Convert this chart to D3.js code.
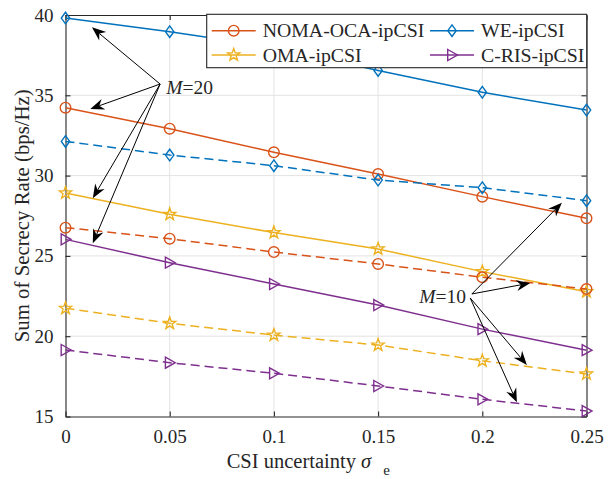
<!DOCTYPE html>
<html>
<head>
<meta charset="utf-8">
<script src="https://cdn.jsdelivr.net/npm/d3@7/dist/d3.min.js"></script>
<style>
  html, body { margin: 0; padding: 0; background: #fff; }
  svg { display: block; }
  text { font-family: "Liberation Serif", "Times New Roman", serif; fill: #262626; }
</style>
</head>
<body>
<svg id="chart" width="612" height="479"></svg>
<script>
// CSI uncertainty values on the x axis
const sigma = [0, 0.05, 0.1, 0.15, 0.2, 0.25];
const xTicks = [0, 0.05, 0.1, 0.15, 0.2, 0.25];
const yTicks = [15, 20, 25, 30, 35, 40];

// Sum secrecy rate (bps/Hz), M = 20 (solid) and M = 10 (dashed)
const nomaM20 = [34.23, 32.92, 31.45, 30.10, 28.69, 27.34];
const weM20   = [39.81, 38.96, 38.00, 36.55, 35.19, 34.08];
const omaM20  = [28.92, 27.59, 26.45, 25.43, 24.02, 22.77];
const crisM20 = [26.03, 24.58, 23.25, 21.94, 20.44, 19.13];
const nomaM10 = [26.76, 26.07, 25.24, 24.50, 23.67, 22.94];
const weM10   = [32.13, 31.28, 30.62, 29.72, 29.25, 28.44];
const omaM10  = [21.74, 20.80, 20.07, 19.45, 18.47, 17.65];
const crisM10 = [19.14, 18.35, 17.69, 16.90, 16.07, 15.34];

const schemeNames = ["NOMA-OCA-ipCSI", "WE-ipCSI", "OMA-ipCSI", "C-RIS-ipCSI"];

const colors = {
  noma: "#D95319",
  we: "#0072BD",
  oma: "#EDB120",
  cris: "#7E2F8E"
};

const series = [
  { key: "noma", name: schemeNames[0], values: nomaM20, dashed: false, marker: "circle" },
  { key: "we",   name: schemeNames[1], values: weM20,   dashed: false, marker: "diamond" },
  { key: "oma",  name: schemeNames[2], values: omaM20,  dashed: false, marker: "star" },
  { key: "cris", name: schemeNames[3], values: crisM20, dashed: false, marker: "triangle" },
  { key: "noma", values: nomaM10, dashed: true, marker: "circle" },
  { key: "we",   values: weM10,   dashed: true, marker: "diamond" },
  { key: "oma",  values: omaM10,  dashed: true, marker: "star" },
  { key: "cris", values: crisM10, dashed: true, marker: "triangle" }
];

// Annotation arrows, in data coordinates: [sigma, rate]
const m20Label = { text: "20", at: [0.0484, 35.5] };
const m20Arrows = [
  { from: [0.0454, 35.70], to: [0.0127, 39.23] },
  { from: [0.0454, 35.70], to: [0.0119, 34.15] },
  { from: [0.0454, 35.70], to: [0.0131, 28.59] },
  { from: [0.0454, 35.70], to: [0.0131, 25.78] }
];
const m10Label = { text: "10", at: [0.1922, 22.46] };
const m10Arrows = [
  { from: [0.1950, 22.63], to: [0.2382, 28.31] },
  { from: [0.1950, 22.63], to: [0.2230, 23.31] },
  { from: [0.1942, 22.38], to: [0.2214, 18.21] },
  { from: [0.1942, 22.38], to: [0.2166, 15.88] }
];

const svg = d3.select("#chart");
const plot = { left: 65.5, right: 586.5, top: 15, bottom: 416.5 };

const x = d3.scaleLinear().domain([0, 0.25]).range([plot.left, plot.right]);
const y = d3.scaleLinear().domain([15, 40]).range([plot.bottom, plot.top]);

const tickFont = 19;
const axisColor = "#262626";

// grid
const grid = svg.append("g");
grid.selectAll("line.gx").data(xTicks.slice(1, -1)).enter().append("line")
  .attr("x1", d => x(d)).attr("x2", d => x(d))
  .attr("y1", plot.top).attr("y2", plot.bottom)
  .attr("stroke", "#e3e3e3").attr("stroke-width", 1);
grid.selectAll("line.gy").data(yTicks.slice(1, -1)).enter().append("line")
  .attr("x1", plot.left).attr("x2", plot.right)
  .attr("y1", d => y(d)).attr("y2", d => y(d))
  .attr("stroke", "#e3e3e3").attr("stroke-width", 1);

// axes with inward ticks, box on all four sides
const fmtX = d => d === 0 ? "0" : String(+d.toFixed(2));
const axB = d3.axisBottom(x).tickValues(xTicks).tickSizeInner(-5).tickSizeOuter(0).tickPadding(13).tickFormat(fmtX);
const axT = d3.axisTop(x).tickValues(xTicks).tickSizeInner(-5).tickSizeOuter(0).tickFormat("");
const axL = d3.axisLeft(y).tickValues(yTicks).tickSizeInner(-5).tickSizeOuter(0).tickPadding(12).tickFormat(d3.format("d"));
const axR = d3.axisRight(y).tickValues(yTicks).tickSizeInner(-5).tickSizeOuter(0).tickFormat("");

function styleAxis(g) {
  g.select(".domain").attr("stroke", axisColor).attr("stroke-width", 1.1);
  g.selectAll(".tick line").attr("stroke", axisColor).attr("stroke-width", 1.1);
  g.selectAll(".tick text").attr("font-family", "Liberation Serif, Times New Roman, serif")
    .attr("font-size", tickFont).attr("fill", axisColor);
}
svg.append("g").attr("transform", `translate(0,${plot.bottom})`).call(axB).call(styleAxis);
svg.append("g").attr("transform", `translate(0,${plot.top})`).call(axT).call(styleAxis);
svg.append("g").attr("transform", `translate(${plot.left},0)`).call(axL).call(styleAxis);
svg.append("g").attr("transform", `translate(${plot.right},0)`).call(axR).call(styleAxis);

// marker shapes
function markerPath(type) {
  if (type === "diamond") return "M0,-5.8L4.2,0L0,5.8L-4.2,0Z";
  if (type === "triangle") return "M-4.3,-5.5L5.5,0L-4.3,5.5Z";
  if (type === "star") {
    const pts = [];
    const R = 6.4, r = 2.6;
    for (let i = 0; i < 10; i++) {
      const a = -Math.PI / 2 + i * Math.PI / 5;
      const rr = i % 2 === 0 ? R : r;
      pts.push([rr * Math.cos(a), rr * Math.sin(a)]);
    }
    return "M" + pts.map(p => p[0].toFixed(2) + "," + p[1].toFixed(2)).join("L") + "Z";
  }
  return null;
}
function drawMarker(g, type, cx, cy, color) {
  if (type === "circle") {
    g.append("circle").attr("cx", cx).attr("cy", cy).attr("r", 5.3)
      .attr("fill", "none").attr("stroke", color).attr("stroke-width", 1.4);
  } else {
    g.append("path").attr("d", markerPath(type))
      .attr("transform", `translate(${cx},${cy})`)
      .attr("fill", "none").attr("stroke", color).attr("stroke-width", 1.4)
      .attr("stroke-linejoin", "miter");
  }
}

// series lines and markers
const line = d3.line().x((d, i) => x(sigma[i])).y(d => y(d));
const dataLayer = svg.append("g");
series.forEach(s => {
  dataLayer.append("path").datum(s.values).attr("d", line)
    .attr("fill", "none").attr("stroke", colors[s.key]).attr("stroke-width", 1.5)
    .attr("stroke-dasharray", s.dashed ? "9,5" : null);
  s.values.forEach((v, i) => drawMarker(dataLayer, s.marker, x(sigma[i]), y(v), colors[s.key]));
});

// arrow annotations
function arrow(g, from, to) {
  const x1 = x(from[0]), y1 = y(from[1]), x2 = x(to[0]), y2 = y(to[1]);
  const ang = Math.atan2(y2 - y1, x2 - x1);
  const L = 14, W = 5.5, N = 9.5;
  const ux = Math.cos(ang), uy = Math.sin(ang);
  const px = -uy, py = ux;
  g.append("line").attr("x1", x1).attr("y1", y1)
    .attr("x2", x2 - ux * N).attr("y2", y2 - uy * N)
    .attr("stroke", "#000").attr("stroke-width", 1);
  const p = [
    [x2, y2],
    [x2 - ux * L + px * W, y2 - uy * L + py * W],
    [x2 - ux * N, y2 - uy * N],
    [x2 - ux * L - px * W, y2 - uy * L - py * W]
  ];
  g.append("path").attr("d", "M" + p.map(q => q.join(",")).join("L") + "Z").attr("fill", "#000");
}
const ann = svg.append("g");
m20Arrows.forEach(a => arrow(ann, a.from, a.to));
m10Arrows.forEach(a => arrow(ann, a.from, a.to));

function mLabel(lbl, anchor) {
  const t = ann.append("text").attr("x", x(lbl.at[0])).attr("y", y(lbl.at[1]) + 6.8)
    .attr("font-size", 19.5).attr("fill", "#000").attr("text-anchor", anchor);
  t.append("tspan").attr("font-style", "italic").text("M");
  t.append("tspan").text("=" + lbl.text);
}
mLabel(m20Label, "start");
mLabel(m10Label, "end");

// legend
const lg = svg.append("g");
const lx0 = 206.7, ly0 = 14.3, lw = 380, lh = 53.4;
lg.append("rect").attr("x", lx0).attr("y", ly0).attr("width", lw).attr("height", lh)
  .attr("fill", "#fff").attr("stroke", axisColor).attr("stroke-width", 1.1);
const legendItems = series.slice(0, 4);
const colX = [211.7, 430];
const rowY = [30.7, 55];
const legendPos = [[0, 0], [1, 0], [0, 1], [1, 1]];
legendItems.forEach((s, i) => {
  const cx = colX[legendPos[i][0]], cy = rowY[legendPos[i][1]];
  lg.append("line").attr("x1", cx).attr("x2", cx + 44).attr("y1", cy).attr("y2", cy)
    .attr("stroke", colors[s.key]).attr("stroke-width", 1.5);
  drawMarker(lg, s.marker, cx + 22, cy, colors[s.key]);
  lg.append("text").attr("x", cx + 51).attr("y", cy + 6.6)
    .attr("font-size", 19.8).attr("fill", "#000").text(s.name);
});

// axis titles
svg.append("text")
  .attr("transform", `translate(29,${(plot.top + plot.bottom) / 2}) rotate(-90)`)
  .attr("text-anchor", "middle").attr("font-size", 20.8)
  .text("Sum of Secrecy Rate (bps/Hz)");

const xl = svg.append("text").attr("x", 226.7).attr("y", 468.3).attr("font-size", 20.5);
xl.append("tspan").text("CSI uncertainty ");
xl.append("tspan").attr("font-style", "italic").text("σ");
xl.append("tspan").attr("dx", 12).attr("dy", 7).attr("font-size", 15).text("e");
</script>
</body>
</html>
